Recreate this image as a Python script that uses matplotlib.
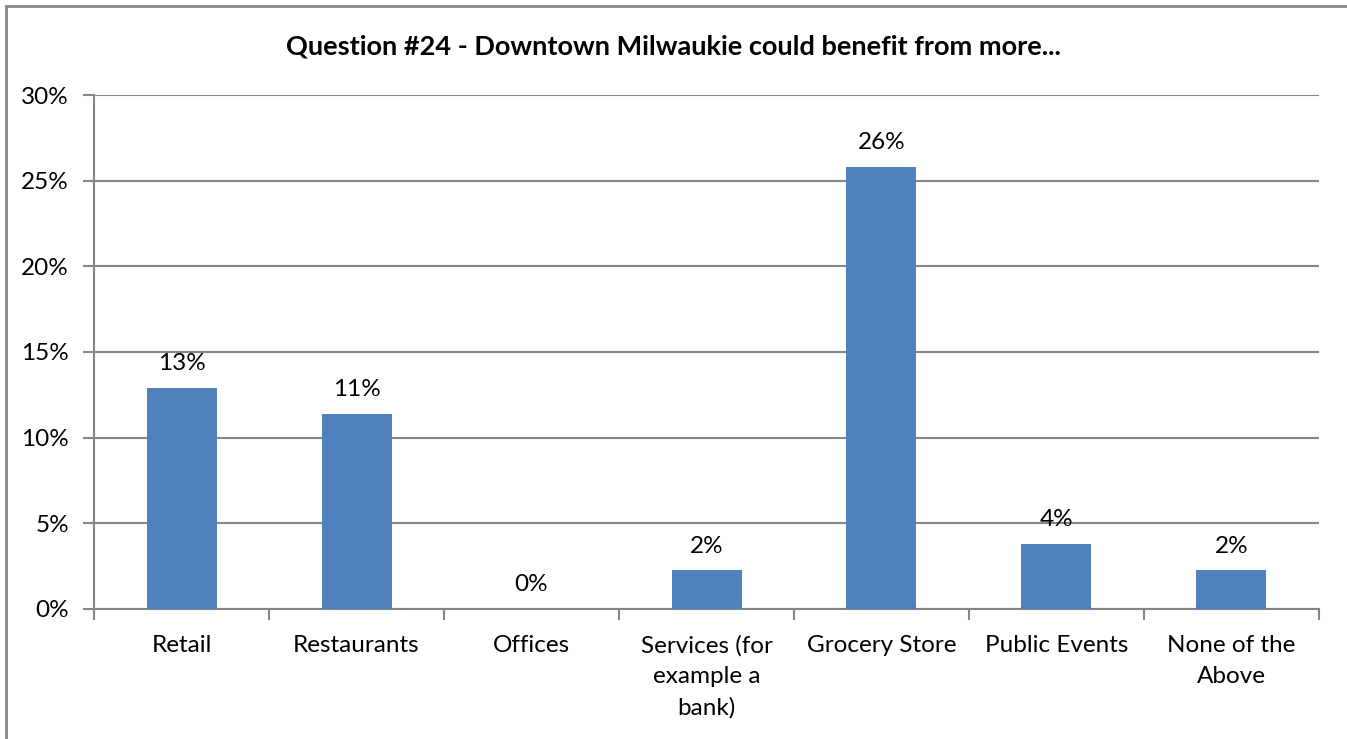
import matplotlib
matplotlib.use("Agg")
import matplotlib.pyplot as plt
from matplotlib.patches import Rectangle
import numpy as np

plt.rcParams['font.family'] = ['Lato', 'DejaVu Sans']

# survey answers, share of respondents (%)
categories = ['Retail', 'Restaurants', 'Offices', 'Services (for\nexample a\nbank)',
              'Grocery Store', 'Public Events', 'None of the\nAbove']
shares = [12.9, 11.4, 0.0, 2.25, 25.8, 3.8, 2.25]
title = 'Question #24 - Downtown Milwaukie could benefit from more...'

bar_color = '#4F81BD'
grid_color = '#868686'
fs = 17.5

fig = plt.figure(figsize=(13.47, 7.39), dpi=100)
ax = fig.add_axes([0.0698, 0.176, 0.9094, 0.6954])

x = np.arange(len(categories))
bars = ax.bar(x, shares, width=0.4, color=bar_color, zorder=3)

for xi, v in zip(x, shares):
    ax.annotate('{:.0f}%'.format(v), (xi, v), xytext=(0, 10), textcoords='offset points',
                ha='center', va='bottom', fontsize=fs, color='black')

ax.set_xlim(-0.5, len(categories) - 0.5)
ax.set_ylim(0, 30)
ax.set_yticks(np.arange(0, 31, 5))
ax.set_yticklabels(['{}%'.format(t) for t in range(0, 31, 5)], fontsize=fs)
ax.yaxis.grid(True, color=grid_color, linewidth=1.5, zorder=0)

# category labels sit between boundary ticks
ax.set_xticks(x)
ax.set_xticklabels(categories, fontsize=fs, linespacing=1.56, va='top')
ax.tick_params(axis='x', length=0, pad=19)
ax.set_xticks(np.arange(-0.5, len(categories)), minor=True)
ax.tick_params(axis='x', which='minor', length=8, color=grid_color, width=1.5, direction='out')
ax.tick_params(axis='y', length=8, color=grid_color, width=1.5, pad=10)

for s in ['top', 'right']:
    ax.spines[s].set_visible(False)
for s in ['left', 'bottom']:
    ax.spines[s].set_color(grid_color)
    ax.spines[s].set_linewidth(1.5)

fig.text(0.5, 0.937, title, ha='center', va='center', fontsize=19.5, fontweight='bold')

# outer chart border, running off the right and bottom edges
fig.patches.append(Rectangle((5.5 / 1347, -0.05), 1.05, 1.05 - 6 / 739,
                             transform=fig.transFigure, fill=False,
                             edgecolor='#868686', linewidth=2))

fig.savefig('out.png', dpi=100)
